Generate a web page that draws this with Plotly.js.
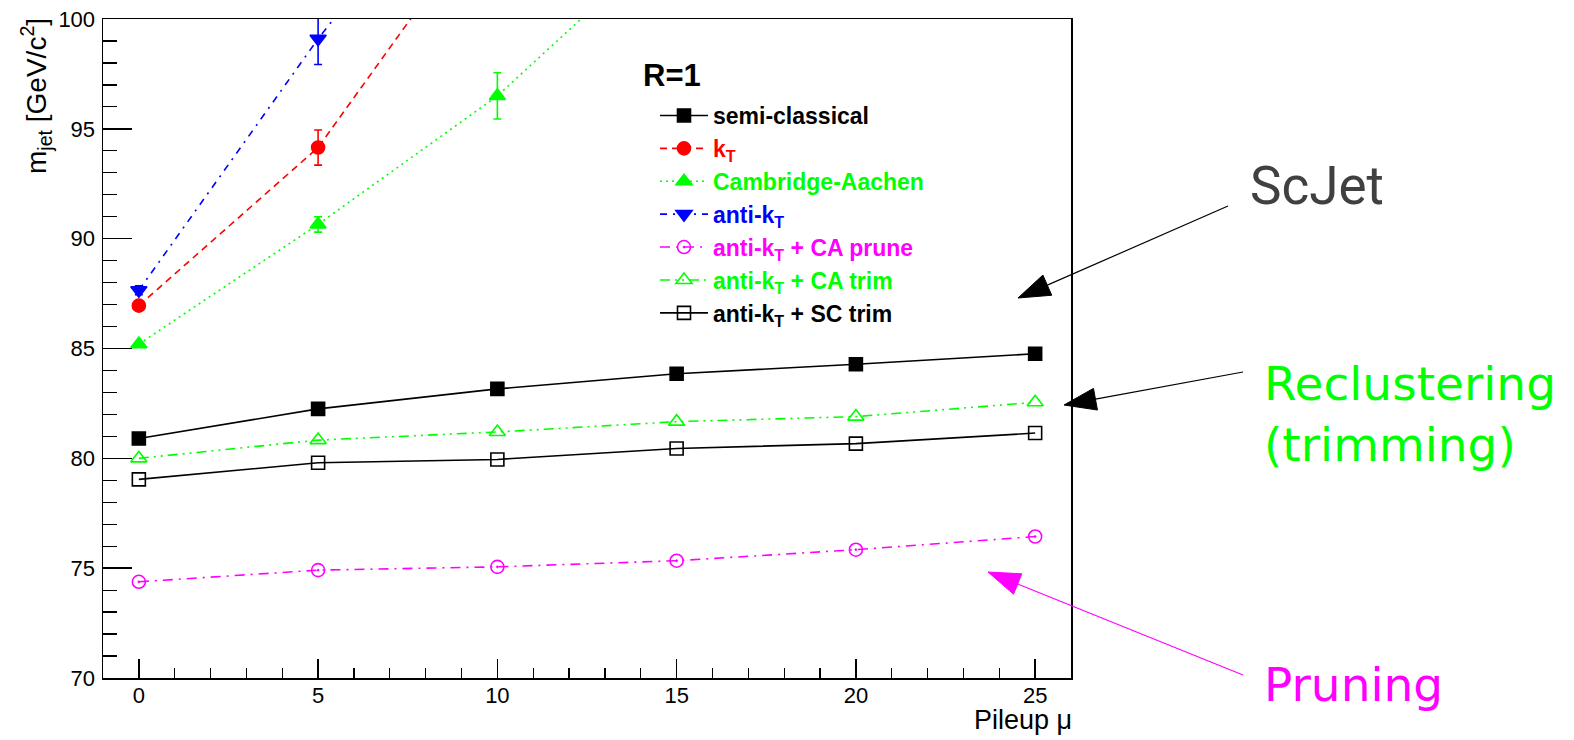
<!DOCTYPE html>
<html>
<head>
<meta charset="utf-8">
<script src="https://cdn.plot.ly/plotly-3.0.1.min.js"></script>
<style>html,body{margin:0;padding:0;background:#fff;}#plot{width:1574px;height:740px;}</style>
</head>
<body>
<div id="plot"></div>
<script>
// ---- data ----
const pileupMu = [0, 5, 10, 15, 20, 25];
const semiClassical = [80.9, 82.25, 83.16, 83.85, 84.28, 84.76];
const kT = [86.95, 94.15, 105.5, null, null, null];
const kTErr = [0.15, 0.8, 1.2, 0, 0, 0];
const cambridgeAachen = [85.2, 90.65, 96.5, 104.0, null, null];
const cambridgeAachenErr = [0.1, 0.35, 1.05, 1.3, 0, 0];
const antiKT = [87.65, 99.1, 109.5, null, null, null];
const antiKTErr = [0.2, 1.17, 1.5, 0, 0, 0];
const antiKTCAPrune = [74.38, 74.91, 75.06, 75.34, 75.84, 76.44];
const antiKTCATrim = [80.0, 80.83, 81.2, 81.67, 81.9, 82.55];
const antiKTSCTrim = [79.04, 79.8, 79.95, 80.45, 80.67, 81.15];

const seriesNames = [
  'semi-classical',
  'k<sub>T</sub>',
  'Cambridge-Aachen',
  'anti-k<sub>T</sub>',
  'anti-k<sub>T</sub> + CA prune',
  'anti-k<sub>T</sub> + CA trim',
  'anti-k<sub>T</sub> + SC trim'
];

// ---- styles ----
const BLACK = '#000000', RED = '#ff0000', GREEN = '#00ff00', BLUE = '#0000ff', MAGENTA = '#ff00ff';

function colored(name, c) { return '<span style="color:' + c + '">' + name + '</span>'; }

function mk(y, name, color, dash, symbol, size, err, group) {
  const t = {
    x: pileupMu, y: y, type: 'scatter', mode: 'lines+markers',
    name: colored(name, color), legendgroup: group,
    line: {color: color, width: 1.6, dash: dash},
    marker: {symbol: symbol, size: size, color: color, line: {color: color, width: 1.6}},
    connectgaps: false
  };
  if (err) t.error_y = {type: 'data', array: err, visible: true, color: color, thickness: 1.6, width: 4};
  return t;
}

const traces = [
  mk(semiClassical, seriesNames[0], BLACK, 'solid', 'square', 13, null, 'g1'),
  mk(kT, seriesNames[1], RED, '7px,5px', 'circle', 13, kTErr, 'g2'),
  mk(cambridgeAachen, seriesNames[2], GREEN, '2px,4px', 'triangle-up', 14, cambridgeAachenErr, 'g3'),
  mk(antiKT, seriesNames[3], BLUE, '7px,6px,2px,6px', 'triangle-down', 14, antiKTErr, 'g4'),
  mk(antiKTCAPrune, seriesNames[4], MAGENTA, '10px,6px,2px,6px', 'circle-open-dot', 13, null, 'g5'),
  mk(antiKTCATrim, seriesNames[5], GREEN, '10px,5px,2px,5px,2px,5px', 'triangle-up-open', 14, null, 'g6'),
  mk(antiKTSCTrim, seriesNames[6], BLACK, 'solid', 'square-open', 13, null, 'g7')
];

// ---- layout geometry ----
const W = 1574, H = 740, ML = 103, MR = 503, MT = 19, MB = 62;
const PW = W - ML - MR, PH = H - MT - MB;
const px = v => (v - ML) / PW;
const py = v => (H - MB - v) / PH;

function arrow(tail, tip, color, len, wid) {
  const dx = tip[0] - tail[0], dy = tip[1] - tail[1];
  const L = Math.hypot(dx, dy), ux = dx / L, uy = dy / L;
  const bx = tip[0] - ux * len, by = tip[1] - uy * len;
  const nx = -uy, ny = ux;
  const c1 = [bx + nx * wid / 2, by + ny * wid / 2], c2 = [bx - nx * wid / 2, by - ny * wid / 2];
  return [
    {type: 'line', xref: 'paper', yref: 'paper', x0: px(tail[0]), y0: py(tail[1]), x1: px(bx), y1: py(by),
     line: {color: color, width: 1.2}},
    {type: 'path', xref: 'paper', yref: 'paper',
     path: 'M' + px(tip[0]) + ',' + py(tip[1]) + ' L' + px(c1[0]) + ',' + py(c1[1]) + ' L' + px(c2[0]) + ',' + py(c2[1]) + ' Z',
     fillcolor: color, line: {color: color, width: 1}}
  ];
}

const shapes = [].concat(
  arrow([1228, 206], [1018, 298], BLACK, 32, 22),
  arrow([1243, 372], [1064, 405], BLACK, 32, 22),
  arrow([1243, 675], [988, 572], MAGENTA, 32, 22)
);

const axisFont = {family: '"Liberation Sans", Arial, sans-serif', size: 22, color: '#000'};

const layout = {
  width: W, height: H,
  margin: {l: ML, r: MR, t: MT, b: MB, pad: 0},
  paper_bgcolor: '#fff', plot_bgcolor: '#fff',
  showlegend: true,
  legend: {
    x: px(655), y: py(94), xanchor: 'left', yanchor: 'top',
    bgcolor: 'rgba(0,0,0,0)', borderwidth: 0,
    font: {family: '"Liberation Sans", Arial, sans-serif', size: 23, weight: 'bold', color: '#000'},
    itemwidth: 48, tracegroupgap: 0, traceorder: 'grouped', itemclick: false
  },
  xaxis: {
    range: [-1, 26], showgrid: false, zeroline: false,
    showline: true, linecolor: '#000', linewidth: 1.5, mirror: true,
    ticks: 'inside', ticklen: 19, tickwidth: 1.5, tickcolor: '#000',
    tick0: 0, dtick: 5, tickfont: axisFont, ticklabelstandoff: -3,
    minor: {ticks: 'inside', ticklen: 10, dtick: 1, tickwidth: 1.2, tickcolor: '#000', showgrid: false}
  },
  yaxis: {
    range: [70, 100], showgrid: false, zeroline: false,
    showline: true, linecolor: '#000', linewidth: 1.5, mirror: true,
    ticks: 'inside', ticklen: 29, tickwidth: 1.5, tickcolor: '#000',
    tick0: 70, dtick: 5, tickfont: axisFont, ticklabelstandoff: 2,
    minor: {ticks: 'inside', ticklen: 14, dtick: 1, tickwidth: 1.2, tickcolor: '#000', showgrid: false}
  },
  shapes: shapes,
  annotations: [
    {text: 'm<sub>jet</sub> [GeV/c<sup>2</sup>]', textangle: -90, showarrow: false,
     xref: 'paper', yref: 'paper', x: px(36), y: py(16), xanchor: 'center', yanchor: 'top',
     font: {family: '"Liberation Sans", Arial, sans-serif', size: 28, color: '#000'}},
    {text: 'Pileup \u03bc', showarrow: false, xref: 'paper', yref: 'paper',
     x: px(1074), y: py(720), xanchor: 'right', yanchor: 'middle',
     font: {family: '"Liberation Sans", Arial, sans-serif', size: 27, color: '#000'}},
    {text: '<b>R=1</b>', showarrow: false, xref: 'paper', yref: 'paper',
     x: px(641), y: py(75), xanchor: 'left', yanchor: 'middle',
     font: {family: '"Liberation Sans", Arial, sans-serif', size: 31, color: '#000'}},
    {text: 'ScJet', showarrow: false, xref: 'paper', yref: 'paper',
     x: px(1248), y: py(186), xanchor: 'left', yanchor: 'middle',
     font: {family: 'Roboto, sans-serif', size: 53, color: '#404040'}},
    {text: 'Reclustering<br>(trimming)', showarrow: false, xref: 'paper', yref: 'paper', align: 'left',
     x: px(1262), y: py(354), xanchor: 'left', yanchor: 'top',
     font: {family: '"DejaVu Sans", sans-serif', size: 47, color: GREEN}},
    {text: 'Pruning', showarrow: false, xref: 'paper', yref: 'paper',
     x: px(1262), y: py(684), xanchor: 'left', yanchor: 'middle',
     font: {family: '"DejaVu Sans", sans-serif', size: 47, color: MAGENTA}}
  ]
};

Plotly.newPlot('plot', traces, layout, {displayModeBar: false, staticPlot: true});
</script>
</body>
</html>
